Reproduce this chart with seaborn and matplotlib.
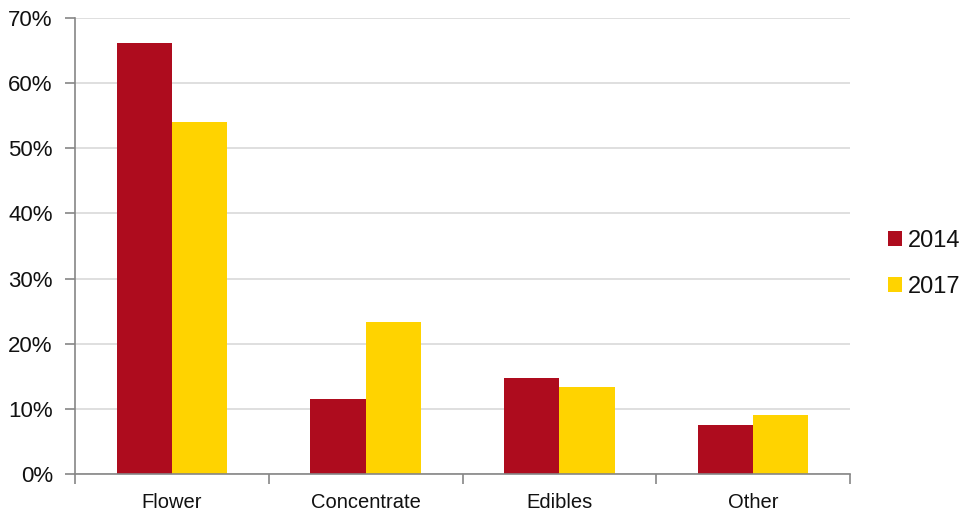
import matplotlib
matplotlib.use("Agg")
import matplotlib.pyplot as plt
import seaborn as sns
import pandas as pd
from matplotlib.ticker import FixedLocator, PercentFormatter

categories = ["Flower", "Concentrate", "Edibles", "Other"]
years = ["2014", "2017"]
share_2014 = [66.1, 11.5, 14.7, 7.5]
share_2017 = [54.1, 23.4, 13.4, 9.1]
colors = ["#AE0C1E", "#FFD300"]

df = pd.DataFrame({
    "category": categories * 2,
    "year": [years[0]] * len(categories) + [years[1]] * len(categories),
    "share": share_2014 + share_2017,
})

sns.set_style("white")
plt.rcParams["font.family"] = ["Liberation Sans", "DejaVu Sans"]

fig = plt.figure(figsize=(9.74, 5.14), dpi=100)
ax = fig.add_axes([75 / 974, 1 - 474 / 514, (850 - 75) / 974, (474 - 18) / 514])

sns.barplot(data=df, x="category", y="share", hue="year", palette=colors,
            width=0.57, gap=0, saturation=1, ax=ax, errorbar=None,
            edgecolor="none", linewidth=0)

ax.set_xlim(-0.5, 3.5)
ax.set_ylim(0, 70)
ax.set_yticks(range(0, 71, 10))
ax.yaxis.set_major_formatter(PercentFormatter(decimals=0))
ax.grid(axis="y", color="#D9D9D9", linewidth=1.2)
ax.set_axisbelow(True)
ax.set_xlabel("")
ax.set_ylabel("")

for s in ["top", "right"]:
    ax.spines[s].set_visible(False)
for s in ["left", "bottom"]:
    ax.spines[s].set_color("#868686")
    ax.spines[s].set_linewidth(1.2)

ax.tick_params(axis="y", which="major", left=True, length=7, width=1.2,
               color="#868686", labelsize=16, labelcolor="#111111", pad=9)
ax.tick_params(axis="x", which="major", bottom=False, labelsize=14.5,
               labelcolor="#111111", pad=10)
ax.xaxis.set_minor_locator(FixedLocator([-0.5, 0.5, 1.5, 2.5, 3.5]))
ax.tick_params(axis="x", which="minor", bottom=True, length=7, width=1.2,
               color="#868686")

leg = ax.legend(loc="center left", bbox_to_anchor=(1.049, 0.461), frameon=False,
                fontsize=17, handlelength=0.6, handleheight=0.6,
                handletextpad=0.25, labelspacing=1.0, borderaxespad=0,
                borderpad=0)
for t in leg.get_texts():
    t.set_color("#111111")

fig.savefig("out.png", dpi=100)
